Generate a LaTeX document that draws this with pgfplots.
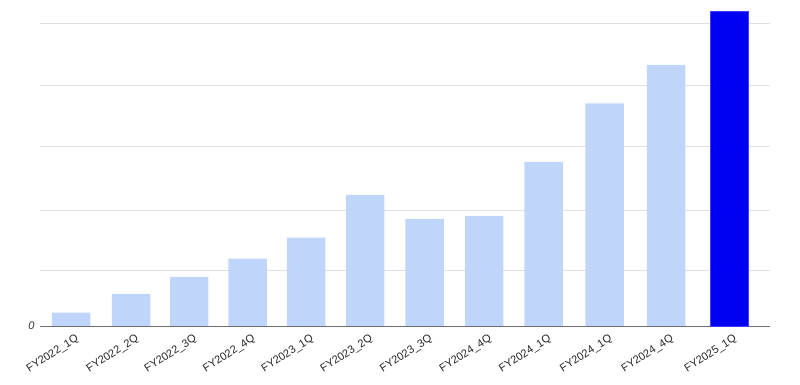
\documentclass[border=0pt]{standalone}
\usepackage{pgfplots}
\pgfplotsset{compat=1.18}
\usepackage{fontspec}
\setmainfont{Liberation Sans}
\definecolor{lightbar}{RGB}{192,213,250}
\definecolor{darkbar}{RGB}{0,0,242}
\definecolor{gridc}{RGB}{224,224,224}
\definecolor{basec}{RGB}{110,110,110}
\begin{document}
\begin{tikzpicture}
\path[use as bounding box] (0pt,0pt) rectangle (800pt,385pt);
\begin{axis}[
  at={(40pt,59pt)}, anchor=south west,
  scale only axis, width=730pt, height=320pt,
  xmin=40, xmax=770, ymin=0, ymax=320,
  axis x line*=bottom, axis y line*=left,
  y axis line style={draw=none},
  x axis line style={draw=basec, line width=0.8pt},
  major tick length=0pt,
  ytick={0,56,116,180,241,303},
  yticklabels={0,,,,,},
  ymajorgrids, grid style={draw=gridc, line width=0.8pt},
  yticklabel style={font=\fontsize{11}{13}\selectfont\itshape, text=black!80, xshift=-2pt},
  xtick={71,131,189,247.5,306,365,424.5,484,543.5,604.5,666,729},
  xticklabels={FY2022\_1Q,FY2022\_2Q,FY2022\_3Q,FY2022\_4Q,FY2023\_1Q,FY2023\_2Q,FY2023\_3Q,FY2024\_4Q,FY2024\_1Q,FY2024\_1Q,FY2024\_4Q,FY2025\_1Q},
  xticklabel style={xshift=5pt, yshift=-3pt, rotate=33, anchor=north east, font=\fontsize{11}{13}\selectfont, text=black!85},
  ybar, bar width=38.5pt, bar shift=0pt,
  clip=false,
]
\addplot[fill=lightbar, draw=none] coordinates {
 (71,13.3) (131,32) (189,49) (247.5,67.3) (306,88.3) (365,131) (424.5,107) (484,110) (543.5,164) (604.5,222.7) (666,261)
};
\addplot[fill=darkbar, draw=blue!75!white, line width=0.5pt] coordinates {(729,314.3)};
\end{axis}
\end{tikzpicture}
\end{document}
